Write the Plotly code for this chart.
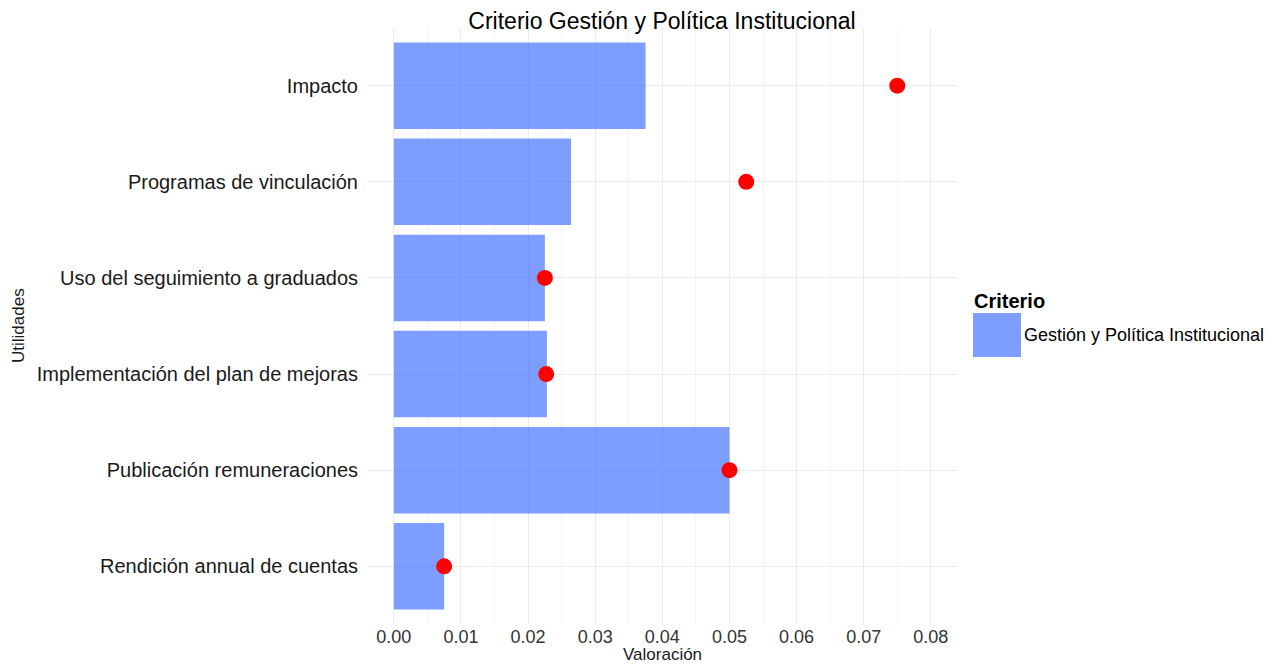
import plotly.graph_objects as go

utilidades = ["Rendición annual de cuentas", "Publicación remuneraciones",
              "Implementación del plan de mejoras", "Uso del seguimiento a graduados",
              "Programas de vinculación", "Impacto"]
valor_barra = [0.0075, 0.050, 0.0228, 0.0225, 0.0264, 0.0375]
valor_punto = [0.0075, 0.050, 0.0227, 0.0225, 0.0525, 0.075]
criterio = "Gestión y Política Institucional"
x_ticks = [0, 0.01, 0.02, 0.03, 0.04, 0.05, 0.06, 0.07, 0.08]
x_labels = ["0.00", "0.01", "0.02", "0.03", "0.04", "0.05", "0.06", "0.07", "0.08"]

font = "Liberation Sans, Arial, sans-serif"
bar_color = "rgba(51,102,255,0.63)"

# page has 8px body margin, so figure is a bit smaller than the window
W, H = 1265, 657
L, T = 359, 20
R, B = W - 949, H - 616
pw, ph = W - L - R, H - T - B

def px(x):
    # page pixel -> paper x
    return (x - 8 - L) / pw

def py(y):
    # page pixel -> paper y
    return 1 - (y - 8 - T) / ph

fig = go.Figure()
fig.add_trace(go.Bar(y=utilidades, x=valor_barra, orientation="h", width=0.9,
                     marker=dict(color=bar_color, line=dict(width=0)),
                     name=criterio, showlegend=False))
fig.add_trace(go.Scatter(y=utilidades, x=valor_punto, mode="markers",
                         marker=dict(color="#FF0000", size=16), showlegend=False))

fig.update_layout(
    width=W, height=H,
    paper_bgcolor="white", plot_bgcolor="white",
    margin=dict(l=L, r=R, t=T, b=B),
    font=dict(family=font, color="#1a1a1a"),
    title=dict(text="Criterio Gestión y Política Institucional", xref="paper", x=0.5,
               xanchor="center", y=1 - 12.5 / H, yanchor="middle",
               font=dict(size=23, color="black")),
    xaxis=dict(range=[-0.004, 0.0839], tickvals=x_ticks, ticktext=x_labels,
               showgrid=True, gridcolor="#EBEBEB", gridwidth=1.2, zeroline=False,
               minor=dict(dtick=0.005, tick0=0.005, showgrid=True, gridcolor="#F4F4F4", gridwidth=0.6),
               tickfont=dict(size=18, color="#333"), ticks="",
               automargin=False),
    yaxis=dict(range=[-0.6, 5.6], showgrid=True, gridcolor="#EBEBEB", gridwidth=1.2,
               tickfont=dict(size=20, color="#1a1a1a"), ticks="outside", ticklen=4,
               tickcolor="rgba(0,0,0,0)", automargin=False),
    bargap=0.1,
)

# axis titles
fig.add_annotation(text="Valoración", xref="paper", yref="paper", x=0.5, y=py(655),
                   yanchor="middle", showarrow=False, font=dict(size=17, color="#1a1a1a"))
fig.add_annotation(text="Utilidades", xref="paper", yref="paper", x=px(18), y=0.5,
                   xanchor="center", yanchor="middle",
                   textangle=-90, showarrow=False, font=dict(size=17, color="#1a1a1a"))

# legend
fig.add_annotation(text="<b>Criterio</b>", xref="paper", yref="paper", x=px(972), y=py(301),
                   xanchor="left", yanchor="middle", showarrow=False,
                   font=dict(size=20, color="black"))
fig.add_shape(type="rect", xref="paper", yref="paper", x0=px(973), x1=px(1021),
              y0=py(357), y1=py(313), fillcolor=bar_color, line=dict(width=0))
fig.add_annotation(text=criterio, xref="paper", yref="paper", x=px(1022), y=py(335),
                   xanchor="left", yanchor="middle", showarrow=False,
                   font=dict(size=18, color="black"))

fig.write_html("out.html")
